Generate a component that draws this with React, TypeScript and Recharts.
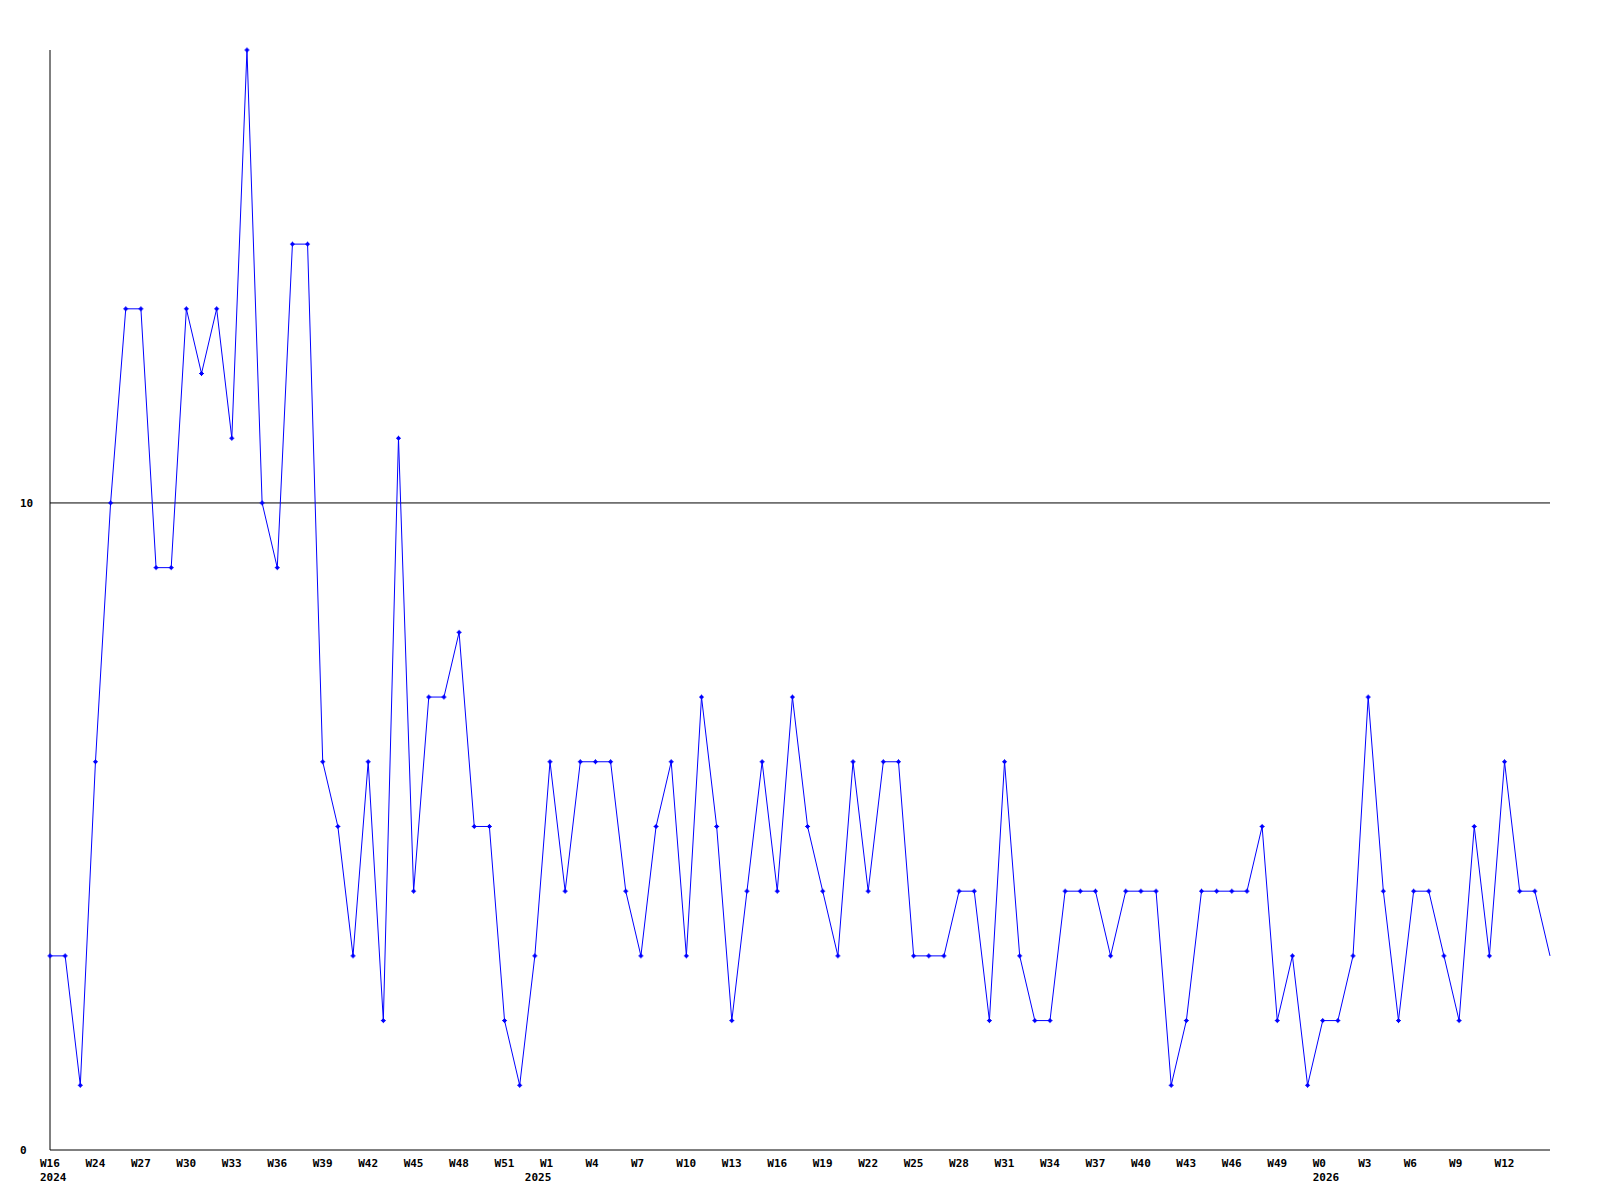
import React from 'react';
import { LineChart, Line, XAxis, YAxis, ReferenceLine } from 'recharts';

// weekly counts, one point per week
const values = [
  3, 3, 1, 6, 10, 13, 13, 9, 9, 13,
  12, 13, 11, 17, 10, 9, 14, 14, 6, 5,
  3, 6, 2, 11, 4, 7, 7, 8, 5, 5,
  2, 1, 3, 6, 4, 6, 6, 6, 4, 3,
  5, 6, 3, 7, 5, 2, 4, 6, 4, 7,
  5, 4, 3, 6, 4, 6, 6, 3, 3, 3,
  4, 4, 2, 6, 3, 2, 2, 4, 4, 4,
  3, 4, 4, 4, 1, 2, 4, 4, 4, 4,
  5, 2, 3, 1, 2, 2, 3, 7, 4, 2,
  4, 4, 3, 2, 5, 3, 6, 4, 4, 3,
];

// a week label on every third point
const weekLabels = [
  'W16', 'W24', 'W27', 'W30', 'W33', 'W36', 'W39', 'W42', 'W45', 'W48', 'W51',
  'W1', 'W4', 'W7', 'W10', 'W13', 'W16', 'W19', 'W22', 'W25', 'W28', 'W31',
  'W34', 'W37', 'W40', 'W43', 'W46', 'W49', 'W0', 'W3', 'W6', 'W9', 'W12',
];

// year label and the point where that year starts
const years = ['2024', '2025', '2026'];
const yearStart = [0, 32, 84];

const yTicks = [0, 10];

const data = values.map((v, i) => ({ i, v }));

const FONT = "'DejaVu Sans Mono', monospace";

const WeekTick = (props: any) => {
  const { x, payload } = props;
  const idx = payload.value as number;
  const week = idx % 3 === 0 ? weekLabels[idx / 3] : null;
  const y = yearStart.indexOf(idx);
  return (
    <g>
      {week && (
        <text x={x - 10} y={1167} fontFamily={FONT} fontWeight="bold" fontSize={11} fill="#000">
          {week}
        </text>
      )}
      {y >= 0 && (
        <text x={x - 10} y={1181} fontFamily={FONT} fontWeight="bold" fontSize={11} fill="#000">
          {years[y]}
        </text>
      )}
    </g>
  );
};

const ValueTick = (props: any) => {
  const { y, payload } = props;
  return (
    <text x={20} y={y} dy={4} fontFamily={FONT} fontWeight="bold" fontSize={11} fill="#000">
      {payload.value}
    </text>
  );
};

const Marker = (props: any) => {
  const { cx, cy, index } = props;
  if (index === values.length - 1) return <g key={`m-${index}`} />;
  return (
    <g key={`m-${index}`} fill="#0000ff">
      <rect x={cx - 1.5} y={cy - 1.5} width={3} height={3} />
      <rect x={cx - 2.5} y={cy - 0.5} width={5} height={1} />
      <rect x={cx - 0.5} y={cy - 2.5} width={1} height={5} />
    </g>
  );
};

const App: React.FC = () => {
  return (
    <div style={{ position: 'absolute', left: 0, top: 0, width: 1600, height: 1200, background: '#fff' }}>
      <LineChart width={1600} height={1200} data={data} margin={{ top: 50, right: 50, bottom: 0, left: 0 }}>
        <XAxis
          dataKey="i"
          type="category"
          interval={0}
          height={50}
          tickLine={false}
          axisLine={{ stroke: '#000', strokeWidth: 1 }}
          tick={<WeekTick />}
        />
        <YAxis
          type="number"
          domain={[0, 17]}
          ticks={yTicks}
          width={50}
          tickLine={false}
          axisLine={{ stroke: '#000', strokeWidth: 1 }}
          tick={<ValueTick />}
        />
        <ReferenceLine y={10} stroke="#000" strokeWidth={1} />
        <Line
          type="linear"
          dataKey="v"
          stroke="#0000ff"
          strokeWidth={1}
          dot={Marker}
          activeDot={false}
          isAnimationActive={false}
        />
      </LineChart>
    </div>
  );
};

export default App;
